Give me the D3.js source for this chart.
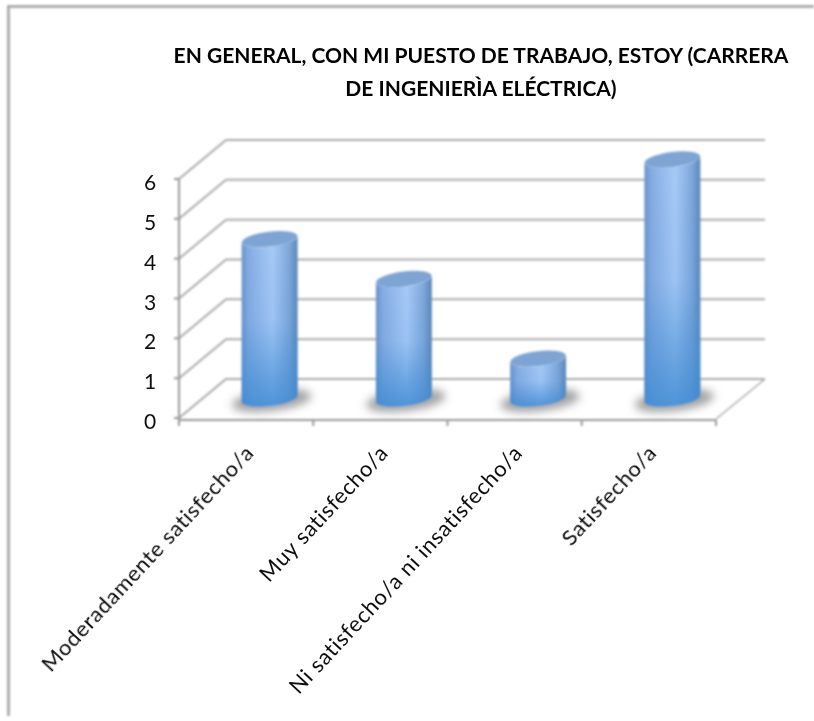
<!DOCTYPE html>
<html><head><meta charset="utf-8">
<script src="https://cdn.jsdelivr.net/npm/d3@7"></script>
<style>html,body{margin:0;background:#fff}svg{display:block}</style></head>
<body><svg id="c" width="814" height="721"></svg>
<script>
const categories = ["Moderadamente satisfecho/a","Muy satisfecho/a","Ni satisfecho/a ni insatisfecho/a","Satisfecho/a"];
const values = [4,3,1,6];
const yTicks = [0,1,2,3,4,5,6];
const titleLines = ["EN GENERAL, CON MI PUESTO DE TRABAJO, ESTOY (CARRERA","DE INGENIERÌA ELÉCTRICA)"];

const depth = {dx:47, dy:-39};
const svg = d3.select("#c");
const defs = svg.append("defs");
const blur = (id,s)=>defs.append("filter").attr("id",id)
  .attr("filterUnits","userSpaceOnUse").attr("x",0).attr("y",0).attr("width",814).attr("height",721)
  .append("feGaussianBlur").attr("stdDeviation",s);
blur("soft",1.0); blur("txt",0.7); blur("shadow",4);
const side = defs.append("linearGradient").attr("id","side");
[[0,"#6a92c8"],[0.12,"#86ace2"],[0.55,"#a8cbf8"],[0.85,"#7fa7da"],[1,"#5a86b8"]].forEach(d=>side.append("stop").attr("offset",d[0]).attr("stop-color",d[1]));
const vert = defs.append("linearGradient").attr("id","vert").attr("x1",0).attr("x2",0).attr("y1",0).attr("y2",1);
[[0,0],[0.5,0.12],[1,0.85]].forEach(d=>vert.append("stop").attr("offset",d[0]).attr("stop-color","#3f8ad2").attr("stop-opacity",d[1]));

const x = d3.scaleBand().domain(categories).range([179,716]);
const y = d3.scaleLinear().domain([0,6]).range([418,179]);

// frame
svg.append("path").attr("d","M8.5,716V6.5H814").attr("fill","none").attr("stroke","#adadad").attr("stroke-width",3).attr("filter","url(#soft)");

const plot = svg.append("g").attr("filter","url(#soft)");
// back gridlines and side wall
const grid = plot.append("g").attr("stroke","#aaa").attr("stroke-width",2).attr("fill","none");
yTicks.forEach(t=>{
  grid.append("path").attr("d",`M${x.range()[0]},${y(t)}L${x.range()[0]+depth.dx},${y(t)+depth.dy}H${x.range()[1]+depth.dx+2}`);
});
// floor edge
grid.append("path").attr("d",`M${x.range()[1]},${y(0)+1}L${x.range()[1]+depth.dx+2},${y(0)+depth.dy}`).attr("stroke-width",1.5);

// axes
const axis = plot.append("g").attr("stroke","#999").attr("stroke-width",2).attr("fill","none");
axis.append("path").attr("d",`M${x.range()[0]},${y(6)}V${y(0)+2}H${x.range()[1]}`);
yTicks.forEach(t=>axis.append("path").attr("d",`M${x.range()[0]-5},${y(t)}H${x.range()[0]}`));
const xt = [...categories.map(c=>x(c)), x.range()[1]];
xt.forEach(v=>axis.append("path").attr("d",`M${v},${y(0)+2}V${y(0)+8}`));

// bars
const barW = x.bandwidth()*0.417, rx = barW/2, ry = 7.5, rot = -7;
const cx = c=>x(c)+x.bandwidth()/2+depth.dx/2;
const off = depth.dy/2;
const tilt = rx*Math.sin(-rot*Math.PI/180);
const bars = plot.selectAll("g.bar").data(categories.map((c,i)=>({c,v:values[i]}))).join("g").attr("class","bar");
bars.append("ellipse").attr("cx",d=>cx(d.c)+2).attr("cy",y(0)+off+2).attr("rx",rx+12).attr("ry",ry+3)
  .attr("transform",d=>`rotate(${rot} ${cx(d.c)+2} ${y(0)+off+2})`).attr("fill","#a2a2a2").attr("filter","url(#shadow)");
const body = d=>{
  const t=y(d.v)+off, b=y(0)+off, l=cx(d.c)-rx, r=cx(d.c)+rx;
  return `M${l},${t+tilt}L${l},${b+tilt}A${rx},${ry} ${rot} 0 0 ${r},${b-tilt}L${r},${t-tilt}A${rx},${ry} ${rot} 0 1 ${l},${t+tilt}Z`;
};
bars.append("path").attr("d",body).attr("fill","url(#side)");
bars.append("path").attr("d",body).attr("fill","url(#vert)");
bars.append("ellipse").attr("cx",d=>cx(d.c)).attr("cy",d=>y(d.v)+off).attr("rx",rx).attr("ry",ry)
  .attr("transform",d=>`rotate(${rot} ${cx(d.c)} ${y(d.v)+off})`).attr("fill","#7ea4d4");

// text
const font = "Lato, 'Noto Sans', sans-serif";
const tg = svg.append("g").attr("filter","url(#txt)").attr("font-family",font);
tg.selectAll("text.t").data(titleLines).join("text").attr("class","t")
  .attr("x",481).attr("y",(d,i)=>63+i*33).attr("text-anchor","middle")
  .attr("font-size",21).attr("font-weight",700).attr("fill","#000").text(d=>d);
tg.selectAll("text.yl").data(yTicks).join("text").attr("class","yl")
  .attr("x",150).attr("y",d=>y(d)+11).attr("text-anchor","middle")
  .attr("font-size",21).attr("fill","#111").text(d=>d);
const labelEnd = c=>x(c)+x.bandwidth()/2+9;
tg.selectAll("text.xl").data(categories).join("text").attr("class","xl")
  .attr("text-anchor","end").attr("font-size",22).attr("letter-spacing",0.65).attr("fill","#111")
  .attr("transform",c=>`translate(${labelEnd(c)},454) rotate(-47)`).text(c=>c);
</script></body></html>
